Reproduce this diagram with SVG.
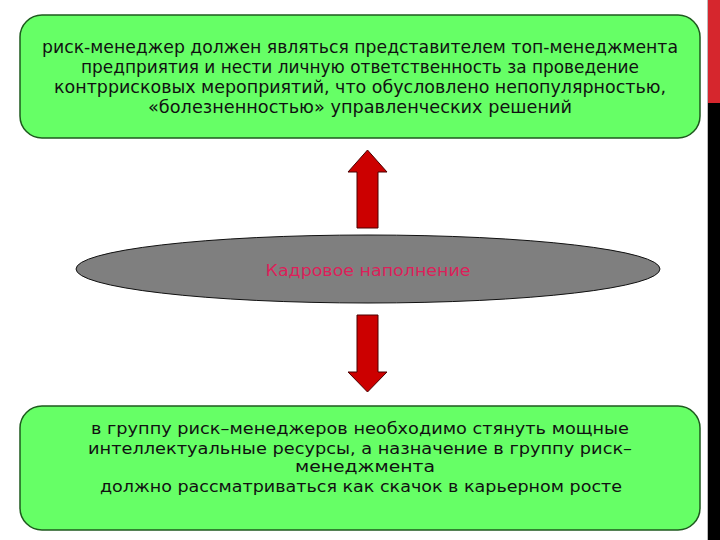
<svg xmlns="http://www.w3.org/2000/svg" width="720" height="540" viewBox="0 0 720 540">
<style>
.box{fill:#66ff66;stroke:#1e5a1e;stroke-width:1.5}
.t{font-family:"DejaVu Sans",sans-serif;font-size:17px;fill:#111;text-anchor:middle}
.b{font-size:15.5px}
.arr{fill:#cc0000;stroke:#4a0000;stroke-width:1}
</style>
<rect x="0" y="0" width="720" height="540" fill="#ffffff"/>
<rect x="708" y="0" width="12" height="103" fill="#d6262d"/>
<rect x="708" y="103" width="12" height="437" fill="#000"/>
<line x1="707.5" y1="0" x2="707.5" y2="540" stroke="#bbb" stroke-width="1"/>
<g id="connectors">
<polygon class="arr" points="367.5,150 387,172 378,172 378,228 357,228 357,172 348,172"/>
<polygon class="arr" points="357,315 378,315 378,372 387,372 367.5,392 348,372 357,372"/>
</g>
<g id="top">
<rect class="box" x="20" y="15" width="680" height="123" rx="22"/>
<text class="t" x="360" y="53" textLength="636" lengthAdjust="spacingAndGlyphs">риск-менеджер должен являться представителем топ-менеджмента</text>
<text class="t" x="360" y="73" textLength="558" lengthAdjust="spacingAndGlyphs">предприятия и нести личную ответственность за проведение</text>
<text class="t" x="360" y="93" textLength="612" lengthAdjust="spacingAndGlyphs">контррисковых мероприятий, что обусловлено непопулярностью,</text>
<text class="t" x="360" y="113" textLength="424" lengthAdjust="spacingAndGlyphs">«болезненностью» управленческих решений</text>
</g>
<g id="center">
<ellipse cx="368" cy="269" rx="292" ry="34" fill="#7f7f7f" stroke="#111" stroke-width="1"/>
<text x="368" y="276" font-family="DejaVu Sans,sans-serif" font-size="15" fill="#dc1f5a" text-anchor="middle" textLength="205" lengthAdjust="spacingAndGlyphs">Кадровое наполнение</text>
</g>
<g id="bottom">
<rect class="box" x="20" y="406" width="680" height="124" rx="22"/>
<text class="t b" x="360" y="434" textLength="538" lengthAdjust="spacingAndGlyphs">в группу риск–менеджеров необходимо стянуть мощные</text>
<text class="t b" x="360" y="454" textLength="544" lengthAdjust="spacingAndGlyphs">интеллектуальные ресурсы, а назначение в группу риск–</text>
<text class="t b" x="365" y="472" textLength="140" lengthAdjust="spacingAndGlyphs">менеджмента</text>
<text class="t b" x="361" y="492" textLength="522" lengthAdjust="spacingAndGlyphs">должно рассматриваться как скачок в карьерном росте</text>
</g>
</svg>
